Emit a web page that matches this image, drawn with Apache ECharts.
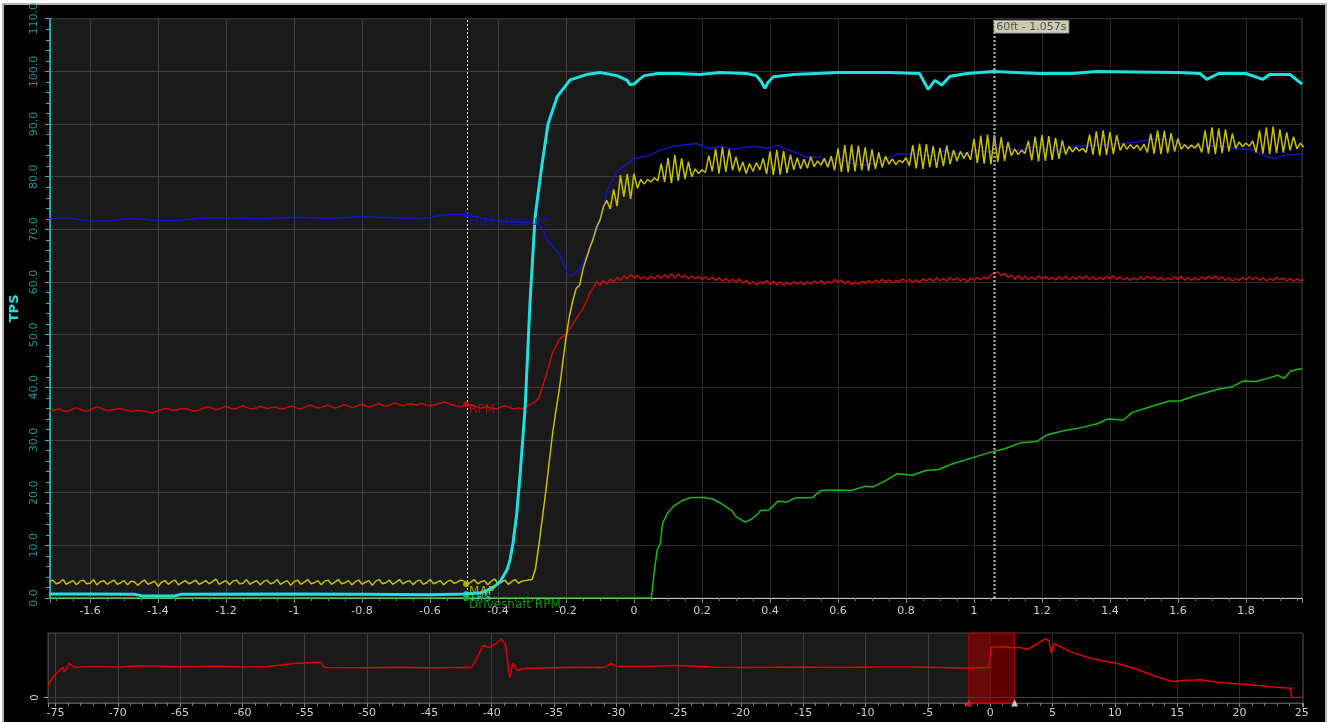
<!DOCTYPE html>
<html>
<head>
<meta charset="utf-8">
<script src="https://cdn.jsdelivr.net/npm/echarts@6/dist/echarts.min.js"></script>
<style>
  html, body { margin: 0; padding: 0; background: #fff; overflow: hidden; }
  #frame { position: absolute; left: 2px; top: 3px; width: 1325px; height: 730px; box-sizing: border-box; border: 2px solid #b4b4b4; background: #000; }
  #chart { position: absolute; left: 0; top: 0; width: 1331px; height: 722px; }
</style>
</head>
<body>
<div id="frame"></div>
<div id="chart"></div>
<script>
// logger samples every 10 ms, first sample at -1.72 s
const SAMPLE_START = -1.72;
const SAMPLE_STEP = 0.01;

// MAP (yellow), one value per sample
const MAP = [
  3.1, 3.4, 2.7, 2.9, 3.5, 2.6, 3.0, 3.3, 2.5, 3.2, 3.4, 2.7, 2.8, 3.5, 2.5, 3.1, 3.3, 2.6, 3.0, 3.4,
  2.6, 2.9, 3.3, 2.5, 3.2, 3.1, 2.4, 3.0, 3.4, 2.6, 2.9, 3.2, 2.2, 3.0, 3.3, 2.6, 3.1, 3.4, 2.5, 2.9,
  3.3, 2.7, 3.0, 3.4, 2.6, 2.9, 3.3, 2.7, 3.1, 3.6, 2.6, 3.0, 3.3, 2.5, 3.2, 3.4, 2.7, 2.8, 3.5, 2.6,
  3.0, 3.3, 2.5, 3.1, 3.4, 2.7, 2.9, 3.5, 2.6, 3.0, 3.3, 2.4, 3.1, 3.4, 2.6, 3.0, 3.5, 2.7, 2.9, 3.3,
  2.5, 3.2, 3.4, 2.6, 3.0, 3.5, 2.7, 2.9, 3.3, 2.5, 3.1, 3.4, 2.6, 3.0, 3.3, 2.4, 3.2, 3.5, 2.7, 2.9,
  3.4, 2.6, 3.0, 3.5, 2.7, 3.1, 3.3, 2.5, 3.2, 3.4, 2.6, 2.9, 3.5, 2.7, 3.0, 3.3, 2.5, 3.1, 3.4, 2.8,
  3.0, 3.4, 3.2, 2.6, 3.0, 3.5, 2.7, 3.1, 3.3, 2.5, 3.2, 3.6, 2.7, 3.0, 3.4, 2.6, 3.1, 3.5, 2.8, 3.2,
  3.3, 3.4, 3.5, 5.5, 10, 15, 20, 25.5, 31, 35.5, 39.5, 44.5, 49.5, 53.5, 56.5, 58.8, 59.4, 62.5, 64.5, 66.5,
  68.2, 70.5, 71.8, 74.3, 75.5, 73.9, 77.6, 74.4, 80.3, 76.2, 80.5, 75.8, 80.6, 77.8, 79.5, 78.6, 79.5, 79.0, 79.8, 79.2,
  82.5, 79.0, 83.6, 78.8, 84.1, 79.2, 83.5, 79.6, 82.8, 80.0, 81.5, 80.6, 81.3, 80.8, 84.0, 81.0, 85.3, 80.6, 85.6, 80.9,
  85.2, 81.2, 83.8, 81.0, 82.8, 80.6, 82.5, 81.0, 82.7, 81.3, 83.5, 80.5, 84.8, 80.3, 85.1, 80.4, 84.9, 80.7, 84.2, 81.3,
  83.6, 81.5, 83.3, 81.6, 83.8, 81.9, 83.0, 82.2, 83.5, 81.8, 83.9, 81.2, 85.4, 80.9, 86.0, 80.8, 86.1, 81.0, 85.9, 81.2,
  85.6, 81.1, 85.2, 81.5, 84.6, 81.8, 83.9, 82.4, 83.4, 82.3, 83.1, 82.7, 83.6, 82.1, 86.0, 81.6, 86.3, 81.5, 86.2, 81.8,
  85.8, 81.7, 85.5, 82.0, 85.9, 82.4, 85.1, 83.0, 84.8, 83.5, 84.6, 83.2, 87.2, 82.6, 87.8, 82.5, 88.0, 82.4, 87.9, 82.8,
  87.5, 83.0, 86.6, 84.0, 85.3, 84.2, 85.0, 84.4, 86.8, 83.1, 87.6, 82.9, 87.9, 83.0, 87.7, 83.2, 87.4, 83.4, 86.9, 84.2,
  85.8, 84.7, 85.6, 84.9, 85.4, 84.6, 88.0, 84.2, 88.6, 84.0, 88.8, 84.1, 88.5, 84.3, 87.9, 85.0, 86.3, 85.2, 86.1, 85.3,
  86.0, 85.0, 86.2, 84.6, 88.2, 84.4, 88.8, 84.3, 88.7, 84.5, 88.3, 84.8, 87.2, 85.2, 86.1, 85.3, 86.0, 85.4, 86.3, 84.6,
  88.8, 84.4, 89.4, 84.3, 89.2, 84.5, 89.0, 84.8, 88.2, 85.4, 86.6, 85.7, 86.4, 85.8, 86.8, 84.6, 88.8, 84.4, 89.4, 84.3,
  89.5, 84.5, 89.0, 84.6, 88.4, 85.0, 87.6, 85.3, 86.4, 85.6
];

// RPM (red), one value per sample, on the TPS scale
const RPM = [
  35.5, 35.6, 35.8, 35.9, 35.6, 35.4, 35.6, 35.9, 36.1, 35.9, 35.6, 35.5, 35.7, 36.0, 36.3, 36.1, 35.8, 35.6, 35.6, 35.8,
  35.9, 36.0, 35.8, 35.6, 35.4, 35.5, 35.6, 35.5, 35.5, 35.3, 35.2, 35.3, 35.6, 35.8, 36.0, 35.9, 35.7, 35.6, 35.8, 36.0,
  36.0, 35.8, 35.6, 35.5, 35.7, 36.0, 36.2, 36.3, 36.0, 35.8, 35.9, 36.2, 36.4, 36.1, 35.9, 36.0, 36.3, 36.5, 36.2, 36.0,
  35.9, 36.1, 36.4, 36.2, 36.0, 36.1, 36.3, 36.1, 35.9, 36.0, 36.2, 36.4, 36.3, 36.0, 35.9, 36.2, 36.5, 36.6, 36.3, 36.1,
  36.2, 36.4, 36.6, 36.3, 36.1, 36.2, 36.5, 36.7, 36.4, 36.2, 36.3, 36.6, 36.8, 36.5, 36.3, 36.4, 36.7, 36.9, 36.6, 36.4,
  36.6, 36.9, 37.0, 36.7, 36.5, 36.7, 36.9, 36.8, 36.6, 36.9, 36.9, 36.6, 36.5, 36.6, 36.8, 37.0, 37.2, 37.1, 36.8, 36.6,
  36.4, 36.3, 36.6, 36.8, 36.6, 36.4, 36.3, 36.1, 36.2, 36.3, 36.1, 35.9, 36.0, 36.3, 36.5, 36.3, 36.0, 35.9, 36.1, 35.9,
  36.2, 36.6, 36.9, 37.3, 38.0, 40.0, 42.0, 44.3, 46.5, 47.8, 49.1, 49.6, 50.1, 51.0, 52.0, 53.0, 54.0, 55.0, 56.3, 58.0,
  58.8, 60.1, 59.4, 60.3, 59.6, 60.6, 59.9, 60.9, 60.3, 61.2, 60.6, 61.4, 60.8, 61.3, 60.6, 61.0, 60.5, 61.2, 60.6, 61.3,
  60.7, 61.4, 60.8, 61.6, 60.7, 61.5, 60.9, 61.3, 60.6, 61.2, 60.6, 61.1, 60.5, 61.0, 60.4, 60.9, 60.3, 60.8, 60.2, 60.7,
  60.1, 60.5, 59.9, 60.6, 59.8, 60.3, 59.6, 60.1, 59.5, 60.0, 59.7, 60.3, 59.6, 60.2, 59.5, 60.0, 59.4, 59.9, 59.5, 60.1,
  59.6, 60.0, 59.5, 60.1, 59.6, 60.2, 59.7, 60.3, 59.6, 60.1, 59.8, 60.5, 59.9, 60.4, 59.7, 60.2, 59.5, 60.0, 59.6, 60.1,
  59.7, 60.3, 59.8, 60.4, 59.9, 60.5, 60.0, 60.4, 59.9, 60.3, 60.0, 60.6, 60.1, 60.5, 59.9, 60.4, 60.0, 60.6, 60.2, 60.7,
  60.1, 60.8, 60.2, 60.7, 60.1, 60.9, 60.3, 60.8, 60.2, 60.7, 60.0, 60.8, 60.3, 60.9, 60.4, 61.0, 60.6, 61.4, 61.7, 61.9,
  61.2, 61.6, 60.9, 61.3, 60.6, 61.2, 60.5, 61.1, 60.4, 61.0, 60.5, 61.2, 60.6, 61.1, 60.5, 60.9, 60.4, 61.0, 60.5, 61.1,
  60.4, 61.0, 60.5, 61.1, 60.6, 61.2, 60.5, 61.0, 60.4, 60.9, 60.5, 61.1, 60.6, 61.2, 60.5, 61.0, 60.4, 60.9, 60.3, 60.8,
  60.4, 61.0, 60.5, 61.1, 60.6, 61.0, 60.4, 60.9, 60.3, 60.8, 60.4, 61.0, 60.5, 61.1, 60.4, 60.9, 60.3, 60.8, 60.4, 61.0,
  60.5, 61.1, 60.6, 61.2, 60.5, 61.0, 60.3, 60.8, 60.2, 60.7, 60.3, 60.9, 60.4, 61.0, 60.5, 60.9, 60.3, 60.8, 60.2, 60.7,
  60.3, 60.9, 60.4, 60.8, 60.2, 60.7, 60.1, 60.6, 60.2, 60.5
];

// slower channels, [time s, value]
const TPS = [
  [-1.72, 0.75], [-1.6, 0.75], [-1.47, 0.7], [-1.45, 0.45], [-1.4, 0.4], [-1.35, 0.45], [-1.33, 0.7],
  [-1.0, 0.75], [-0.8, 0.7], [-0.6, 0.6], [-0.494, 0.75], [-0.45, 1.0], [-0.43, 1.5], [-0.41, 2.2],
  [-0.394, 3.1], [-0.374, 5.3], [-0.365, 7.2], [-0.356, 10.4], [-0.345, 16], [-0.335, 23.5], [-0.32, 36.5],
  [-0.306, 56.1], [-0.291, 72.4], [-0.271, 82.2], [-0.253, 90], [-0.226, 95.2], [-0.188, 98.4], [-0.14, 99.4],
  [-0.1, 99.8], [-0.05, 99.2], [-0.02, 98.3], [-0.012, 97.5], [0.0, 97.6], [0.012, 98.3], [0.03, 99.2],
  [0.07, 99.6], [0.13, 99.6], [0.194, 99.4], [0.253, 99.8], [0.33, 99.6], [0.36, 99.2], [0.375, 98.0],
  [0.385, 96.8], [0.395, 98.0], [0.41, 99.0], [0.47, 99.4], [0.6, 99.8], [0.75, 99.8], [0.84, 99.6],
  [0.865, 96.6], [0.885, 98.3], [0.905, 97.4], [0.93, 99.1], [0.98, 99.6], [1.057, 100], [1.19, 99.6],
  [1.29, 99.6], [1.36, 100], [1.6, 99.8], [1.665, 99.6], [1.685, 98.5], [1.72, 99.6], [1.8, 99.6],
  [1.85, 98.5], [1.87, 99.4], [1.93, 99.4], [1.965, 97.6]
];

const FUEL_PRESSURE = [
  [-1.72, 72.0], [-1.67, 72.2], [-1.6, 71.6], [-1.55, 71.6], [-1.49, 72.0], [-1.45, 72.0], [-1.41, 71.7],
  [-1.34, 71.7], [-1.28, 72.1], [-1.2, 72.2], [-1.1, 72.0], [-1.0, 72.3], [-0.9, 72.1], [-0.8, 72.4],
  [-0.7, 72.2], [-0.63, 72.0], [-0.55, 72.8], [-0.494, 72.8], [-0.45, 72.2], [-0.394, 71.5], [-0.32, 71.3],
  [-0.285, 71.1], [-0.27, 70.1], [-0.253, 67.7], [-0.218, 65.2], [-0.194, 61.4], [-0.18, 61.3], [-0.159, 62.6],
  [-0.138, 65.2], [-0.12, 68.2], [-0.1, 71.5], [-0.08, 77.1], [-0.056, 80.5], [-0.04, 81.5], [0, 83.4],
  [0.047, 84.1], [0.076, 85.0], [0.115, 85.8], [0.185, 86.3], [0.224, 85.3], [0.253, 85.8], [0.29, 85.2],
  [0.35, 85.8], [0.39, 85.4], [0.424, 86.0], [0.45, 85.1], [0.488, 84.3], [0.508, 83.7], [0.547, 83.7],
  [0.567, 82.6], [0.6, 83.6], [0.635, 82.6], [0.674, 82.2], [0.714, 82.6], [0.744, 83.4], [0.773, 84.3],
  [0.82, 84.3], [0.88, 83.9], [0.91, 84.9], [0.94, 84.3], [0.98, 84.5], [1.0, 85.1], [1.047, 84.7],
  [1.086, 85.8], [1.126, 84.9], [1.185, 85.8], [1.22, 85.1], [1.26, 84.7], [1.3, 85.8], [1.36, 86.0],
  [1.42, 86.2], [1.48, 86.6], [1.52, 87.1], [1.58, 87.0], [1.63, 85.8], [1.67, 85.8], [1.73, 85.8],
  [1.77, 85.3], [1.82, 85.1], [1.85, 84.1], [1.885, 83.4], [1.91, 84.1], [1.965, 84.3]
];

const DRIVESHAFT_RPM = [
  [-1.72, 0], [0.05, 0], [0.052, 0.6], [0.059, 4.7], [0.068, 9.1], [0.077, 10.3], [0.084, 14.1],
  [0.097, 16.0], [0.116, 17.4], [0.141, 18.5], [0.168, 19.1], [0.206, 19.1], [0.231, 18.8], [0.257, 17.9],
  [0.288, 16.6], [0.301, 15.4], [0.327, 14.4], [0.346, 15.0], [0.365, 16.0], [0.372, 16.6], [0.397, 16.7],
  [0.424, 18.4], [0.449, 18.2], [0.474, 19.0], [0.525, 19.1], [0.55, 20.4], [0.602, 20.5], [0.64, 20.4],
  [0.679, 21.2], [0.704, 21.1], [0.743, 22.4], [0.774, 23.6], [0.819, 23.3], [0.858, 24.2], [0.896, 24.4],
  [0.941, 25.6], [0.999, 26.7], [1.05, 27.7], [1.088, 28.3], [1.138, 29.5], [1.184, 29.7], [1.215, 31.0],
  [1.267, 31.8], [1.318, 32.4], [1.363, 33.1], [1.394, 34.0], [1.44, 33.8], [1.465, 35.2], [1.523, 36.4],
  [1.574, 37.4], [1.606, 37.4], [1.65, 38.4], [1.715, 39.6], [1.759, 40.1], [1.791, 41.2], [1.83, 41.1],
  [1.868, 41.8], [1.894, 42.3], [1.912, 41.7], [1.932, 43.1], [1.965, 43.6]
];

// whole-run RPM for the navigator strip, [time s, value]
const NAV_RPM = [
  [-75.6, 13], [-75.2, 22], [-74.7, 29.3], [-74.4, 32.6], [-74.3, 27.5], [-73.9, 36.9], [-73.5, 32.9],
  [-72, 33.7], [-70, 33.2], [-68, 34.5], [-65, 33.4], [-62, 34.0], [-60, 33.1], [-58, 33.6], [-55.8, 36.9],
  [-53.7, 38.3], [-53.4, 32.6], [-50, 32.2], [-47, 32.9], [-45, 32.0], [-43, 32.5], [-41.6, 32.6],
  [-41.2, 42.3], [-40.7, 56.5], [-40.2, 54.3], [-39.7, 58.3], [-39.2, 63.4], [-38.9, 57.5], [-38.55, 22],
  [-38.3, 36.9], [-37.9, 29.3], [-37.5, 31.5], [-35, 32.3], [-33, 32.9], [-31, 32.6], [-30.4, 36.9],
  [-30, 33.7], [-28, 33.5], [-25, 34.7], [-22, 32.8], [-19.5, 32.6], [-15, 33.0], [-12, 32.5], [-9.1, 33],
  [-6, 33.1], [-2.5, 32], [-0.1, 32.6], [0.08, 54.6], [1.0, 55.2], [1.8, 54.0], [2.3, 54.6], [3.0, 52.1],
  [4.4, 63.7], [4.7, 61.9], [4.9, 48.1], [5.15, 58.3], [6.5, 49.2], [8.2, 42], [10.3, 36.6], [11.65, 31.2],
  [13.06, 23.9], [14.6, 17.4], [15.5, 18.5], [16.9, 19.2], [18.2, 16.6], [20.7, 14.1], [22.4, 11.6],
  [24.1, 10.1], [24.2, 0], [25.1, 0]
];

const CURSOR_T = -0.494;
const SIXTY_FT_T = 1.057;
const WINDOW = [-1.72, 1.96];

const BLUE = '#1414c8';
const RED = '#cc0a0a';
const YELLOW = '#c8c000';
const CYAN = '#1ee0e0';
const GREEN = '#12bc12';
const GRIDLINE = '#2a2a2a';
const AXISTEXT = '#d0d0d0';

function sampled(values) {
  return values.map((v, i) => [+(SAMPLE_START + i * SAMPLE_STEP).toFixed(2), v]);
}

function at(pairs, t) {
  // value shown by the cursor readout
  let best = pairs[0];
  pairs.forEach((p) => { if (Math.abs(p[0] - t) < Math.abs(best[0] - t)) best = p; });
  return best[1];
}

function cursorPoint(name, value, color, dy) {
  return {
    value: [CURSOR_T, value],
    itemStyle: { color },
    label: { formatter: name, color, offset: [-2, dy] },
  };
}

const chart = echarts.init(document.getElementById('chart'));

chart.setOption({
  animation: false,
  textStyle: { fontFamily: 'DejaVu Sans' },
  grid: [
    { left: 50, right: 29, top: 17, bottom: 124, show: true, borderColor: '#3a3a3a', borderWidth: 1 },
    { left: 48, right: 28, top: 633, bottom: 19, show: true, borderColor: '#444', borderWidth: 1 },
  ],
  xAxis: [
    {
      type: 'value', gridIndex: 0, min: -1.718, max: 1.965, splitNumber: 18,
      axisLine: { onZero: false, lineStyle: { color: '#c8c8c8', width: 1 } },
      axisTick: { length: 5, lineStyle: { color: '#888' } },
      minorTick: { show: true, splitNumber: 4, length: 3, lineStyle: { color: '#777' } },
      axisLabel: { color: AXISTEXT, fontSize: 11, margin: 8, showMinLabel: false, showMaxLabel: false },
      splitLine: { show: true, lineStyle: { color: GRIDLINE } },
    },
    {
      type: 'value', gridIndex: 1, min: -75.6, max: 25.1, splitNumber: 20,
      axisLine: { onZero: false, lineStyle: { color: '#555' } },
      axisTick: { length: 4, lineStyle: { color: '#888' } },
      minorTick: { show: true, splitNumber: 5, length: 3, lineStyle: { color: '#777' } },
      axisLabel: { color: AXISTEXT, fontSize: 11, margin: 5, showMinLabel: false, showMaxLabel: false },
      splitLine: { show: true, lineStyle: { color: GRIDLINE } },
    },
  ],
  yAxis: [
    {
      type: 'value', gridIndex: 0, min: 0, max: 110, interval: 10,
      name: 'TPS', nameLocation: 'middle', nameRotate: 90, nameGap: 24,
      nameTextStyle: { color: CYAN, fontWeight: 'bold', fontSize: 13 },
      axisLine: { show: true, onZero: false, lineStyle: { color: '#19c8c8', width: 1.5 } },
      axisTick: { show: true, length: 5, lineStyle: { color: '#19c8c8' } },
      minorTick: { show: true, splitNumber: 5, length: 4, lineStyle: { color: '#19c8c8' } },
      axisLabel: {
        color: '#139c9c', fontSize: 11, rotate: 90, margin: 10,
        formatter: (v) => v.toFixed(1),
      },
      splitLine: { show: true, lineStyle: { color: GRIDLINE } },
    },
    {
      type: 'value', gridIndex: 1, min: -6, max: 70, splitNumber: 2,
      axisLine: { show: false, onZero: false },
      axisTick: { show: true, length: 4, customValues: [0], lineStyle: { color: '#aaa' } },
      axisLabel: {
        color: AXISTEXT, fontSize: 10, rotate: 90, margin: 8, customValues: [0],
        formatter: (v) => (v === 0 ? '0' : ''),
      },
      splitLine: { show: false },
    },
  ],
  series: [
    {
      // shading and marker lines of the main plot
      type: 'line', xAxisIndex: 0, yAxisIndex: 0, data: [[-1.718, 0]], symbol: 'none',
      lineStyle: { opacity: 0 }, silent: true,
      markArea: {
        silent: true,
        itemStyle: { color: 'rgba(255,255,255,0.1)' },
        data: [[{ xAxis: -1.718 }, { xAxis: 0 }]],
      },
      markLine: {
        silent: true, symbol: 'none', label: { show: false },
        data: [
          { xAxis: CURSOR_T, lineStyle: { color: '#e0e0e0', type: [2, 2], width: 1 } },
          { xAxis: SIXTY_FT_T, lineStyle: { color: '#9a9a9a', type: [2, 2], width: 2.5 } },
        ],
      },
    },
    {
      name: 'Driveshaft RPM', type: 'line', data: DRIVESHAFT_RPM, symbol: 'none',
      lineStyle: { color: GREEN, width: 1.5 },
    },
    {
      name: 'RPM', type: 'line', data: sampled(RPM), symbol: 'none',
      lineStyle: { color: RED, width: 1.5 },
    },
    {
      name: 'Fuel pressure', type: 'line', data: FUEL_PRESSURE, symbol: 'none',
      lineStyle: { color: BLUE, width: 1.5 },
    },
    {
      name: 'MAP', type: 'line', data: sampled(MAP), symbol: 'none',
      lineStyle: { color: YELLOW, width: 1.5 },
    },
    {
      name: 'TPS', type: 'line', data: TPS, symbol: 'none',
      lineStyle: { color: CYAN, width: 3 },
    },
    {
      // cursor readout
      type: 'scatter', symbolSize: 6, z: 10, silent: true,
      label: { show: true, position: 'right', distance: 2, fontSize: 12 },
      data: [
        cursorPoint('Fuel pressure', at(FUEL_PRESSURE, CURSOR_T), BLUE, 7),
        cursorPoint('RPM', at(sampled(RPM), CURSOR_T), RED, 6),
        cursorPoint('MAP', at(sampled(MAP), CURSOR_T), YELLOW, 8),
        cursorPoint('TPS', at(TPS, CURSOR_T), CYAN, 4),
        cursorPoint('Driveshaft RPM', 0, GREEN, 7),
      ],
    },
    {
      // 60 ft marker tag
      type: 'scatter', symbolSize: 0, z: 11, silent: true,
      data: [[SIXTY_FT_T, 110]],
      label: {
        show: true, position: 'right', distance: 1, offset: [0, 8],
        formatter: '60ft - 1.057s', color: '#333', fontSize: 11,
        backgroundColor: '#fffbe0', borderColor: '#777', borderWidth: 1, padding: [1, 2, 0, 2],
      },
    },
    {
      // navigator shading, zero line and visible window
      type: 'line', xAxisIndex: 1, yAxisIndex: 1, data: [[-75.6, 0]], symbol: 'none',
      lineStyle: { opacity: 0 }, silent: true,
      markArea: {
        silent: true,
        data: [
          [{ xAxis: -75.6, itemStyle: { color: 'rgba(255,255,255,0.1)' } }, { xAxis: 0 }],
          [{ xAxis: WINDOW[0], itemStyle: { color: 'rgba(150,0,0,0.62)', borderColor: '#b00000', borderWidth: 1 } }, { xAxis: WINDOW[1] }],
        ],
      },
      markLine: {
        silent: true, symbol: 'none', label: { show: false },
        lineStyle: { color: '#3c3c3c', type: 'solid', width: 1 },
        data: [{ yAxis: 0 }],
      },
    },
    {
      name: 'RPM (run)', type: 'line', xAxisIndex: 1, yAxisIndex: 1, data: NAV_RPM, symbol: 'none',
      lineStyle: { color: '#e00000', width: 1.5 },
    },
    {
      type: 'scatter', xAxisIndex: 1, yAxisIndex: 1, symbol: 'triangle', symbolSize: 7, z: 10, silent: true,
      data: [
        { value: [WINDOW[0], -6], itemStyle: { color: '#ff1a1a' } },
        { value: [WINDOW[1], -6], itemStyle: { color: '#fff6c8' } },
      ],
    },
  ],
});
</script>
</body>
</html>
